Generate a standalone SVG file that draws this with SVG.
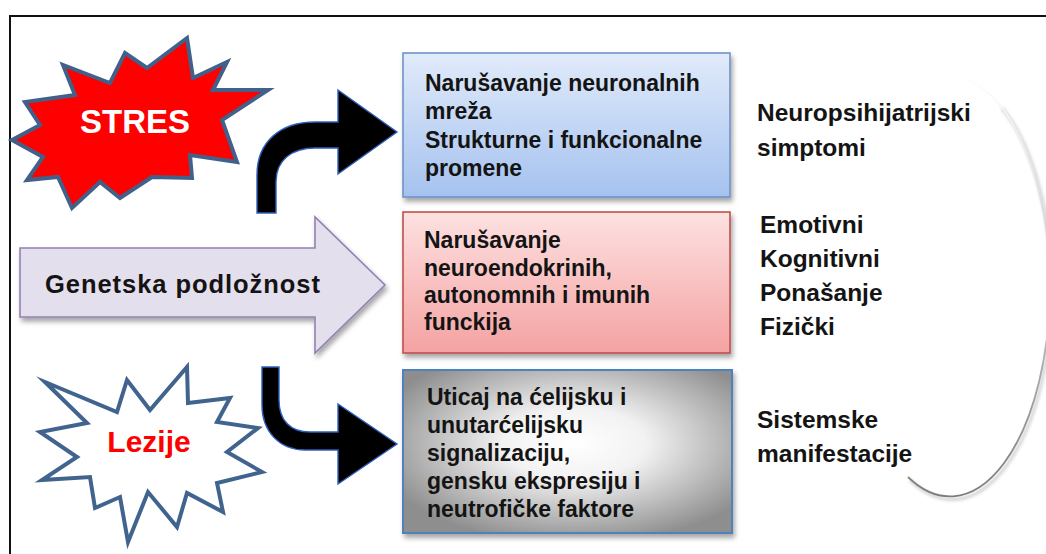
<svg xmlns="http://www.w3.org/2000/svg" width="1046" height="554" viewBox="0 0 1046 554">
<style>
.bt{font-family:"Liberation Sans",Arial,sans-serif;font-weight:bold;font-size:23px;fill:#141414}
.rt{font-family:"Liberation Sans",Arial,sans-serif;font-weight:bold;font-size:24.5px;fill:#141414}
.gt{font-family:"Liberation Sans",Arial,sans-serif;font-weight:bold;font-size:25.5px;fill:#141414}
.star{stroke-width:4;stroke-linejoin:miter;stroke-miterlimit:10}
.curve{fill:#000;stroke:#2d5fbf;stroke-width:1.4;stroke-linejoin:miter}
</style>
<defs>
<filter id="sh" x="-10%" y="-10%" width="125%" height="130%">
<feDropShadow dx="2" dy="4" stdDeviation="2.5" flood-color="#000" flood-opacity="0.35"/>
</filter>
<filter id="bl" x="-10%" y="-10%" width="120%" height="120%">
<feGaussianBlur stdDeviation="1.5"/>
</filter>
<linearGradient id="gBlue" x1="0" y1="0" x2="0" y2="1">
<stop offset="0" stop-color="#e1ebfa"/>
<stop offset="1" stop-color="#a5c2ef"/>
</linearGradient>
<linearGradient id="gRed" x1="0" y1="0" x2="0" y2="1">
<stop offset="0" stop-color="#fde1e1"/>
<stop offset="1" stop-color="#f5a2a2"/>
</linearGradient>
<radialGradient id="gGray" cx="0.52" cy="0.45" r="0.62" fx="0.52" fy="0.45">
<stop offset="0" stop-color="#ffffff"/>
<stop offset="0.35" stop-color="#f2f2f2"/>
<stop offset="1" stop-color="#8e8e8e"/>
</radialGradient>
<linearGradient id="gEll" gradientUnits="userSpaceOnUse" x1="960" y1="75" x2="990" y2="500">
<stop offset="0" stop-color="#ffffff"/>
<stop offset="0.15" stop-color="#eeeeee"/>
<stop offset="0.5" stop-color="#cccccc"/>
<stop offset="1" stop-color="#7a7a7a"/>
</linearGradient>
</defs>

<rect width="1046" height="554" fill="#ffffff"/>
<path id="frame" d="M10,556 V16 H1048" fill="none" stroke="#111" stroke-width="2"/>

<g id="ellipse-bg">
<path d="M1000,105 A100,210 0 0 1 1050,287 A100,210 0 0 1 908,477" fill="none" stroke="#999" stroke-width="3" filter="url(#bl)" transform="translate(2,3)" opacity="0.45"/>
<path d="M950,77 A100,210 0 0 1 1050,287 A100,210 0 0 1 908,477" fill="none" stroke="url(#gEll)" stroke-width="1.8"/>
</g>

<g id="node-stres">
<polygon class="star" fill="#ff0000" stroke="#41618a" points="187,38 193,78 227,62 213,90 268,90 222,120 237,162 190,155 192,178 152,177 120,198 100,182 72,208 58,177 27,180 43,157 12,140 40,125 25,102 75,95 63,65 110,83 125,53 147,68"/>
<text x="135" y="133" text-anchor="middle" font-family="Liberation Sans, Arial, sans-serif" font-weight="bold" font-size="33" fill="#ffffff">STRES</text>
</g>

<g id="node-lezije">
<polygon class="star" fill="#ffffff" stroke="#41648e" points="45,382 117,412 127,380 150,410 187,367 188,403 230,398 217,422 258,428 227,452 262,472 217,483 223,512 187,493 177,527 148,492 128,542 120,497 95,508 90,477 42,480 77,457 40,432 87,423"/>
<text x="149" y="452" text-anchor="middle" font-family="Liberation Sans, Arial, sans-serif" font-weight="bold" font-size="30" fill="#ff0000">Lezije</text>
</g>

<g id="node-genetska">
<polygon points="20,248 315,248 315,217 385,285 315,353 315,317 20,317" fill="#e4dfec" stroke="#9580b5" stroke-width="1.6" filter="url(#sh)"/>
<text class="gt" x="45" y="293" textLength="275" lengthAdjust="spacing">Genetska podložnost</text>
</g>

<g id="node-box1">
<rect x="403" y="53" width="327" height="144" fill="url(#gBlue)" stroke="#6f93c9" stroke-width="1.6" filter="url(#sh)"/>
<text class="bt" x="425" y="91">Narušavanje neuronalnih</text>
<text class="bt" x="425" y="119">mreža</text>
<text class="bt" x="425" y="148">Strukturne i funkcionalne</text>
<text class="bt" x="425" y="176">promene</text>
</g>

<g id="node-box2">
<rect x="403" y="212" width="327" height="141" fill="url(#gRed)" stroke="#c0504d" stroke-width="1.6" filter="url(#sh)"/>
<text class="bt" x="424" y="248">Narušavanje</text>
<text class="bt" x="424" y="276">neuroendokrinih,</text>
<text class="bt" x="424" y="303">autonomnih i imunih</text>
<text class="bt" x="424" y="330">funckija</text>
</g>

<g id="node-box3">
<rect x="403" y="370" width="329" height="163" fill="url(#gGray)" stroke="#4f81bd" stroke-width="2" filter="url(#sh)"/>
<text class="bt" x="427" y="405">Uticaj na ćelijsku i</text>
<text class="bt" x="427" y="433">unutarćelijsku</text>
<text class="bt" x="427" y="461">signalizaciju,</text>
<text class="bt" x="427" y="489">gensku ekspresiju i</text>
<text class="bt" x="427" y="517">neutrofičke faktore</text>
</g>

<g id="node-outcomes">
<text class="rt" x="757" y="121">Neuropsihijatrijski</text>
<text class="rt" x="757" y="156">simptomi</text>
<text class="rt" x="760" y="233">Emotivni</text>
<text class="rt" x="760" y="267">Kognitivni</text>
<text class="rt" x="760" y="301">Ponašanje</text>
<text class="rt" x="760" y="335">Fizički</text>
<text class="rt" x="757" y="428">Sistemske</text>
<text class="rt" x="757" y="462">manifestacije</text>
</g>

<g id="connectors">
<path class="curve" d="M257,213 L257,175 C257,142 280,122 315,122 L338,122 L338,90 L397,132 L338,174 L338,148 L315,148 C292,148 276,160 276,182 L276,213 Z"/>
<path class="curve" d="M262,367 L262,405 C262,432 280,450 305,450 L338,450 L338,484 L397,444 L338,404 L338,432 L310,432 C290,432 279,420 279,400 L279,367 Z"/>
</g>
</svg>
